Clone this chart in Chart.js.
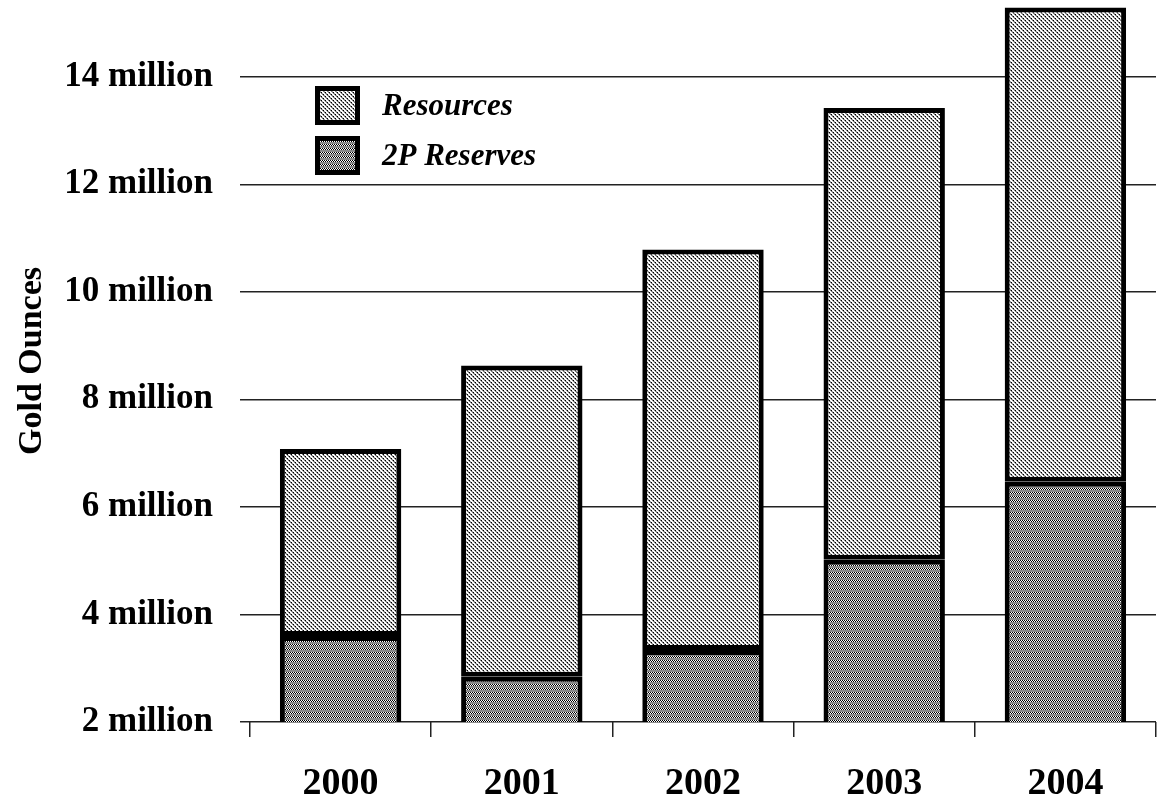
<!DOCTYPE html>
<html>
<head>
<meta charset="utf-8">
<script src="https://cdn.jsdelivr.net/npm/chart.js@4"></script>
<style>
  html, body { margin: 0; padding: 0; background: #fff; }
  #wrap { width: 1157px; height: 810px; }
</style>
</head>
<body>
<div id="wrap"><canvas id="myChart" width="1157" height="810"></canvas></div>
<script>
// data (million ounces)
const years = ['2000', '2001', '2002', '2003', '2004'];
const reserves = [3.6, 2.84, 3.34, 5.02, 6.47];
const resources = [3.48, 5.79, 7.45, 8.4, 8.82];
const yTicks = [2, 4, 6, 8, 10, 12, 14];

// hatch patterns
function makePattern(kind) {
  const c = document.createElement('canvas');
  c.width = 4; c.height = 4;
  const g = c.getContext('2d');
  g.fillStyle = '#fff';
  g.fillRect(0, 0, 4, 4);
  if (kind === 'diag') {
    for (let y = 0; y < 4; y++) {
      g.fillStyle = '#7a7a7a';
      g.fillRect(y, y, 1, 1);
      g.fillStyle = (y % 2 === 0) ? '#000' : '#9a9a9a';
      g.fillRect((y + 1) % 4, y, 1, 1);
    }
  } else {
    for (let x = 0; x < 4; x++) {
      g.fillStyle = x % 2 === 0 ? '#000' : '#fff';
      g.fillRect(x, 0, 1, 1);
      g.fillStyle = x % 2 === 0 ? '#fff' : '#000';
      g.fillRect(x, 1, 1, 1);
    }
    g.fillStyle = '#8a8a8a';
    g.fillRect(0, 2, 4, 2);
  }
  return g.createPattern(c, 'repeat');
}
const patRes = makePattern('diag');
const patRsv = makePattern('horiz');

const serif = "'Liberation Serif', 'Times New Roman', serif";

// legend drawn inside the plot
const boxLegend = {
  id: 'boxLegend',
  afterDraw(chart) {
    const ctx = chart.ctx;
    const items = [
      { text: 'Resources', fill: patRes, y: 86 },
      { text: '2P Reserves', fill: patRsv, y: 136 }
    ];
    ctx.save();
    items.forEach(it => {
      ctx.fillStyle = it.fill;
      ctx.fillRect(315, it.y, 45, 39);
      ctx.lineWidth = 5;
      ctx.strokeStyle = '#000';
      ctx.strokeRect(317.5, it.y + 2.5, 40, 34);
      ctx.fillStyle = '#000';
      ctx.font = "italic bold 31px " + serif;
      ctx.textBaseline = 'middle';
      ctx.fillText(it.text, 382, it.y + 21);
    });
    ctx.restore();
  }
};

const data = {
  labels: years,
  datasets: [{
    label: '2P Reserves',
    data: reserves,
    backgroundColor: patRsv,
    borderColor: '#000',
    borderWidth: 5,
    borderSkipped: false
  }, {
    label: 'Resources',
    data: resources,
    backgroundColor: patRes,
    borderColor: '#000',
    borderWidth: 5,
    borderSkipped: false
  }]
};

const config = {
  type: 'bar',
  data: data,
  options: {
    responsive: false,
    animation: false,
    layout: { padding: { top: 0, right: 1, left: 0, bottom: 0 } },
    datasets: { bar: { categoryPercentage: 1, barPercentage: 0.67 } },
    plugins: { legend: { display: false }, tooltip: { enabled: false } },
    scales: {
      x: {
        stacked: true,
        offset: true,
        border: { display: false },
        grid: { offset: true, drawOnChartArea: false, tickLength: 15, color: '#222', lineWidth: 1.5 },
        ticks: { color: '#000', padding: 24, font: { family: serif, weight: 'bold', size: 38 } },
        afterFit(s) { s.height = 88; s.paddingLeft = 0; s.paddingRight = 0; }
      },
      y: {
        stacked: true,
        min: 2,
        max: 15.43,
        border: { display: false },
        grid: { color: '#222', lineWidth: 1.5, tickLength: 10 },
        afterBuildTicks(s) { s.ticks = yTicks.map(v => ({ value: v })); },
        ticks: {
          color: '#000',
          padding: 27,
          font: { family: serif, weight: 'bold', size: 35 },
          callback: v => v + ' million'
        },
        title: {
          display: true,
          text: 'Gold Ounces',
          color: '#000',
          padding: { top: 12, bottom: 0 },
          font: { family: serif, weight: 'bold', size: 34 }
        },
        afterFit(s) { s.width = 250; s.paddingTop = 0; s.paddingBottom = 0; }
      }
    }
  },
  plugins: [boxLegend]
};

const myChart = new Chart(document.getElementById('myChart'), config);
</script>
</body>
</html>
